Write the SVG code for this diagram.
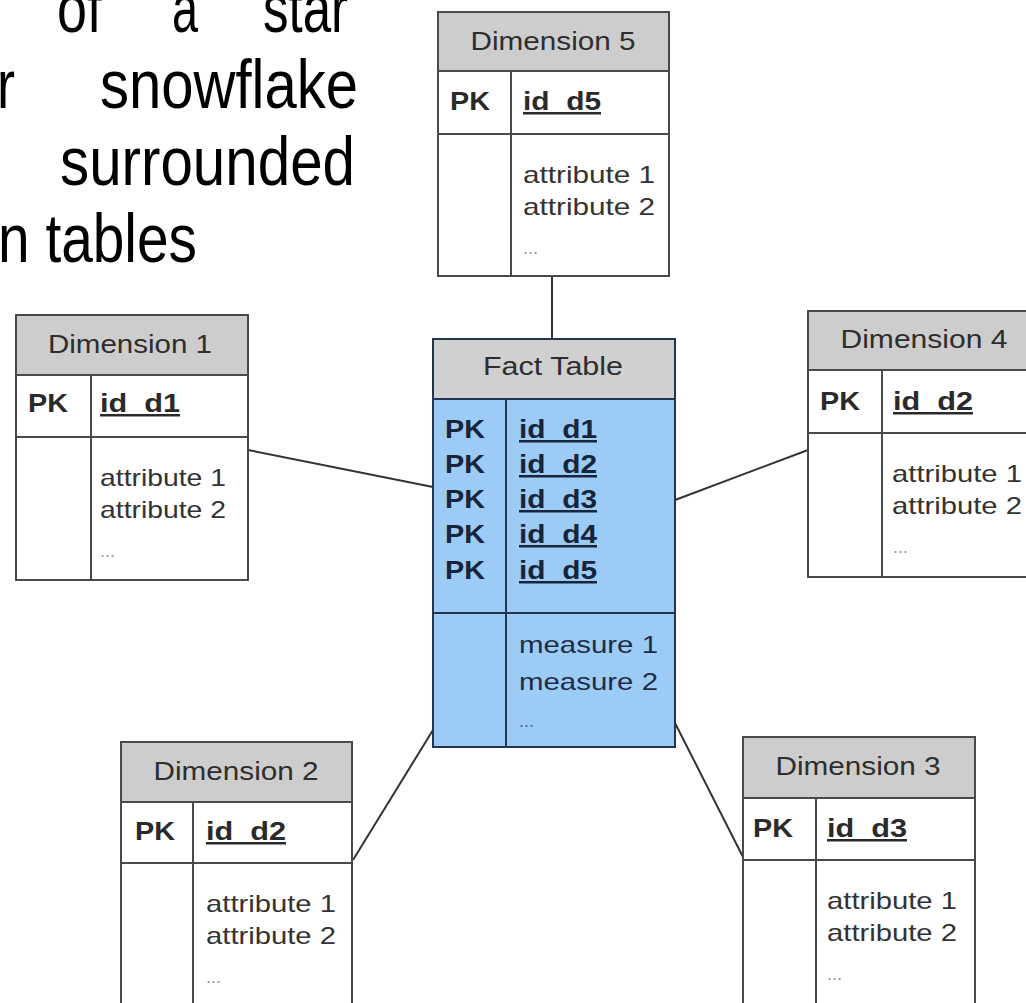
<svg xmlns="http://www.w3.org/2000/svg" width="1026" height="1003" viewBox="0 0 1026 1003">
<style>
.title{font-family:"Liberation Sans",Arial,sans-serif;font-size:68px;fill:#000}
.box{fill:#fff;stroke:#4a4a4a;stroke-width:2}
.hdr{fill:#cdcdcd;stroke:#4a4a4a;stroke-width:2}
.sep{stroke:#4a4a4a;stroke-width:2}
.fbox{fill:#9ccbf6;stroke:#24364f;stroke-width:2}
.fhdr{fill:#d0d0d0;stroke:#24364f;stroke-width:2}
.fsep{stroke:#24364f;stroke-width:2}
.h{font-family:"Liberation Sans",Arial,sans-serif;font-size:25px;fill:#2e2e2e;text-anchor:middle}
.pk{font-family:"Liberation Sans",Arial,sans-serif;font-size:25px;font-weight:bold;fill:#2a2a2a}
.id{font-family:"Liberation Sans",Arial,sans-serif;font-size:25px;font-weight:bold;fill:#2a2a2a;text-decoration:underline}
.at{font-family:"Liberation Sans",Arial,sans-serif;font-size:24px;fill:#333}
.dots{font-family:"Liberation Sans",Arial,sans-serif;font-size:18px;fill:#9a9a9a}
.fpk{font-family:"Liberation Sans",Arial,sans-serif;font-size:25px;font-weight:bold;fill:#17253a}
.fid{font-family:"Liberation Sans",Arial,sans-serif;font-size:25px;font-weight:bold;fill:#17253a;text-decoration:underline}
.fat{font-family:"Liberation Sans",Arial,sans-serif;font-size:24px;fill:#1e2d45}
.fdots{font-family:"Liberation Sans",Arial,sans-serif;font-size:18px;fill:#52698a}
.conn{stroke:#333;stroke-width:2;fill:none}
</style>
<rect width="1026" height="1003" fill="#fff"/>
<g id="title">
<text class="title"><tspan x="57" y="32" textLength="45" lengthAdjust="spacingAndGlyphs">of</tspan><tspan x="172" y="32" textLength="26" lengthAdjust="spacingAndGlyphs">a</tspan><tspan x="263" y="32" textLength="85" lengthAdjust="spacingAndGlyphs">star</tspan></text>
<text class="title"><tspan x="-3" y="108" textLength="18" lengthAdjust="spacingAndGlyphs">r</tspan><tspan x="100" y="108" textLength="258" lengthAdjust="spacingAndGlyphs">snowflake</tspan></text>
<text class="title" x="60" y="185" textLength="295" lengthAdjust="spacingAndGlyphs">surrounded</text>
<text class="title" x="-2" y="262" textLength="199" lengthAdjust="spacingAndGlyphs">n tables</text>
</g>
<g id="connectors">
<line class="conn" x1="552" y1="276" x2="552" y2="339"/>
<line class="conn" x1="248" y1="450" x2="433" y2="487"/>
<line class="conn" x1="675" y1="500" x2="808" y2="450"/>
<line class="conn" x1="353" y1="860" x2="433" y2="730"/>
<line class="conn" x1="675" y1="723" x2="743" y2="857"/>
</g>
<g id="dim5">
<rect class="box" x="438" y="12" width="231" height="264"/>
<rect class="hdr" x="438" y="12" width="231" height="59"/>
<line class="sep" x1="438" y1="134" x2="669" y2="134"/>
<line class="sep" x1="511" y1="71" x2="511" y2="276"/>
<text class="h" x="553" y="50" textLength="165" lengthAdjust="spacingAndGlyphs">Dimension 5</text>
<text class="pk" x="450" y="110" textLength="40" lengthAdjust="spacingAndGlyphs">PK</text>
<text class="id" x="523" y="110" textLength="78" lengthAdjust="spacingAndGlyphs">id_d5</text>
<text class="at" x="523" y="183" textLength="132" lengthAdjust="spacingAndGlyphs">attribute 1</text>
<text class="at" x="523" y="215" textLength="132" lengthAdjust="spacingAndGlyphs">attribute 2</text>
<text class="dots" x="523" y="254">...</text>
</g>
<g id="dim1">
<rect class="box" x="16" y="315" width="232" height="265"/>
<rect class="hdr" x="16" y="315" width="232" height="60"/>
<line class="sep" x1="16" y1="437" x2="248" y2="437"/>
<line class="sep" x1="91" y1="375" x2="91" y2="580"/>
<text class="h" x="130" y="353" textLength="164" lengthAdjust="spacingAndGlyphs">Dimension 1</text>
<text class="pk" x="28" y="412" textLength="40" lengthAdjust="spacingAndGlyphs">PK</text>
<text class="id" x="100" y="412" textLength="80" lengthAdjust="spacingAndGlyphs">id_d1</text>
<text class="at" x="100" y="486" textLength="126" lengthAdjust="spacingAndGlyphs">attribute 1</text>
<text class="at" x="100" y="518" textLength="126" lengthAdjust="spacingAndGlyphs">attribute 2</text>
<text class="dots" x="100" y="557">...</text>
</g>
<g id="fact">
<rect class="fbox" x="433" y="339" width="242" height="408"/>
<rect class="fhdr" x="433" y="339" width="242" height="60"/>
<line class="fsep" x1="433" y1="613" x2="675" y2="613"/>
<line class="fsep" x1="506" y1="399" x2="506" y2="747"/>
<text class="h" x="553" y="375" textLength="140" lengthAdjust="spacingAndGlyphs">Fact Table</text>
<text class="fpk" x="445" y="438" textLength="40" lengthAdjust="spacingAndGlyphs">PK</text>
<text class="fpk" x="445" y="473" textLength="40" lengthAdjust="spacingAndGlyphs">PK</text>
<text class="fpk" x="445" y="508" textLength="40" lengthAdjust="spacingAndGlyphs">PK</text>
<text class="fpk" x="445" y="543" textLength="40" lengthAdjust="spacingAndGlyphs">PK</text>
<text class="fpk" x="445" y="579" textLength="40" lengthAdjust="spacingAndGlyphs">PK</text>
<text class="fid" x="519" y="438" textLength="78" lengthAdjust="spacingAndGlyphs">id_d1</text>
<text class="fid" x="519" y="473" textLength="78" lengthAdjust="spacingAndGlyphs">id_d2</text>
<text class="fid" x="519" y="508" textLength="78" lengthAdjust="spacingAndGlyphs">id_d3</text>
<text class="fid" x="519" y="543" textLength="78" lengthAdjust="spacingAndGlyphs">id_d4</text>
<text class="fid" x="519" y="579" textLength="78" lengthAdjust="spacingAndGlyphs">id_d5</text>
<text class="fat" x="519" y="653" textLength="139" lengthAdjust="spacingAndGlyphs">measure 1</text>
<text class="fat" x="519" y="690" textLength="139" lengthAdjust="spacingAndGlyphs">measure 2</text>
<text class="fdots" x="519" y="727">...</text>
</g>
<g id="dim4">
<rect class="box" x="808" y="311" width="232" height="266"/>
<rect class="hdr" x="808" y="311" width="232" height="59"/>
<line class="sep" x1="808" y1="433" x2="1040" y2="433"/>
<line class="sep" x1="882" y1="370" x2="882" y2="577"/>
<text class="h" x="924" y="348" textLength="167" lengthAdjust="spacingAndGlyphs">Dimension 4</text>
<text class="pk" x="820" y="410" textLength="40" lengthAdjust="spacingAndGlyphs">PK</text>
<text class="id" x="893" y="410" textLength="80" lengthAdjust="spacingAndGlyphs">id_d2</text>
<text class="at" x="892" y="482" textLength="130" lengthAdjust="spacingAndGlyphs">attribute 1</text>
<text class="at" x="892" y="514" textLength="130" lengthAdjust="spacingAndGlyphs">attribute 2</text>
<text class="dots" x="893" y="553">...</text>
</g>
<g id="dim2">
<rect class="box" x="121" y="742" width="231" height="270"/>
<rect class="hdr" x="121" y="742" width="231" height="60"/>
<line class="sep" x1="121" y1="863" x2="352" y2="863"/>
<line class="sep" x1="193" y1="802" x2="193" y2="1012"/>
<text class="h" x="236" y="780" textLength="165" lengthAdjust="spacingAndGlyphs">Dimension 2</text>
<text class="pk" x="135" y="840" textLength="40" lengthAdjust="spacingAndGlyphs">PK</text>
<text class="id" x="206" y="840" textLength="80" lengthAdjust="spacingAndGlyphs">id_d2</text>
<text class="at" x="206" y="912" textLength="130" lengthAdjust="spacingAndGlyphs">attribute 1</text>
<text class="at" x="206" y="944" textLength="130" lengthAdjust="spacingAndGlyphs">attribute 2</text>
<text class="dots" x="206" y="983">...</text>
</g>
<g id="dim3">
<rect class="box" x="743" y="737" width="232" height="275"/>
<rect class="hdr" x="743" y="737" width="232" height="61"/>
<line class="sep" x1="743" y1="860" x2="975" y2="860"/>
<line class="sep" x1="816" y1="798" x2="816" y2="1012"/>
<text class="h" x="858" y="775" textLength="165" lengthAdjust="spacingAndGlyphs">Dimension 3</text>
<text class="pk" x="753" y="837" textLength="40" lengthAdjust="spacingAndGlyphs">PK</text>
<text class="id" x="827" y="837" textLength="80" lengthAdjust="spacingAndGlyphs">id_d3</text>
<text class="at" x="827" y="909" textLength="130" lengthAdjust="spacingAndGlyphs">attribute 1</text>
<text class="at" x="827" y="941" textLength="130" lengthAdjust="spacingAndGlyphs">attribute 2</text>
<text class="dots" x="827" y="980">...</text>
</g>
</svg>
